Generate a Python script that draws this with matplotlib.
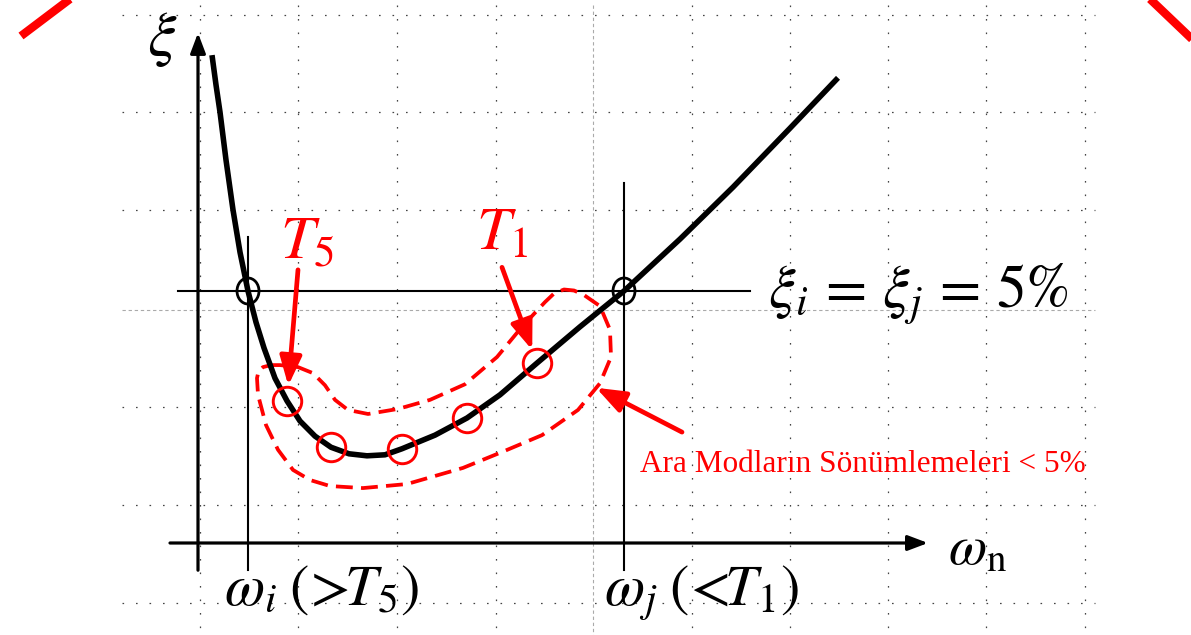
import matplotlib
matplotlib.use("Agg")
import matplotlib.pyplot as plt
from matplotlib.patches import Ellipse

plt.rcParams["mathtext.fontset"] = "stix"

# Rayleigh damping sketch: damping ratio xi (%) against natural frequency omega
omega_i = 1.0
omega_j = 8.52
xi_target = 5.0

# damping curve xi(omega)
curve_omega = [0.28, 0.36, 0.44, 0.56, 0.70, 0.84, 1.00, 1.16, 1.32, 1.54,
               1.78, 2.04, 2.34, 2.66, 3.02, 3.38, 3.74, 4.08, 4.74, 5.38,
               6.04, 6.78, 7.64, 8.52, 9.64, 10.70, 11.84, 12.80]
curve_xi = [9.68, 9.09, 8.55, 7.60, 6.61, 5.77, 5.00, 4.38, 3.87, 3.27,
            2.82, 2.42, 2.12, 1.90, 1.77, 1.73, 1.75, 1.87, 2.14, 2.48,
            2.94, 3.57, 4.29, 5.00, 6.03, 7.06, 8.23, 9.23]

# intermediate modes T5 ... T1
mode_omega = [1.78, 2.66, 4.08, 5.38, 6.78]
mode_xi = [2.82, 1.90, 1.87, 2.48, 3.57]

# outline of the region of the intermediate modes
region_omega = [1.46, 1.64, 2.00, 2.30, 2.54, 2.74, 3.00, 3.40, 4.00, 4.64,
                5.34, 5.98, 6.48, 6.94, 7.12, 7.32, 7.52, 7.72, 8.04, 8.24,
                8.26, 8.04, 7.60, 6.88, 6.14, 5.30, 4.18, 3.30, 2.64, 2.24,
                1.90, 1.60, 1.36, 1.20, 1.18, 1.21, 1.30, 1.46]
region_xi = [3.53, 3.53, 3.49, 3.37, 3.13, 2.84, 2.64, 2.56, 2.66, 2.84,
             3.15, 3.69, 4.29, 4.78, 4.95, 5.03, 5.01, 4.92, 4.70, 4.23,
             3.69, 3.17, 2.64, 2.14, 1.83, 1.49, 1.17, 1.09, 1.13, 1.25,
             1.45, 1.85, 2.34, 2.94, 3.27, 3.41, 3.49, 3.53]

RED = "#ff0000"
W, H = 1191, 635
fig = plt.figure(figsize=(W / 100, H / 100), dpi=100)

# background layer in pixel units: dotted guide grid and corner strokes
bg = fig.add_axes([0, 0, 1, 1])
bg.set_xlim(0, W)
bg.set_ylim(H, 0)
bg.axis("off")
grid_rows = [15, 112, 210, 407, 505, 603]
grid_cols = [200, 298, 397, 496, 692, 790, 888, 986, 1085]
for gy in grid_rows:
    bg.plot([122, 1095], [gy, gy], color="#444444", lw=0.9,
            ls=(0, (1.3, 9.5)), zorder=0)
for gx in grid_cols:
    bg.plot([gx, gx], [5, H], color="#444444", lw=0.9,
            ls=(0, (1.3, 9.5)), zorder=0)
bg.plot([122, 1095], [310, 310], color="#aaaaaa", lw=0.8,
        ls=(0, (3, 2.5)), zorder=0)
bg.plot([593, 593], [5, H], color="#aaaaaa", lw=0.8,
        ls=(0, (3, 2.5)), zorder=0)
bg.plot([21, 70], [36, -1], color=RED, lw=6, solid_capstyle="butt")
bg.plot([1150, 1194], [-1, 41], color=RED, lw=6, solid_capstyle="butt")

# main layer in (omega, xi) units
ax = fig.add_axes([0, 0, 1, 1])
ax.patch.set_alpha(0)
ax.axis("off")
px_per_omega = 50.0
px_per_xi = 50.4
x0, y0 = 198, 543
ax.set_xlim(-x0 / px_per_omega, (W - x0) / px_per_omega)
ax.set_ylim(-(H - y0) / px_per_xi, y0 / px_per_xi)

axis_arrow = dict(arrowstyle="-|>,head_length=0.45,head_width=0.17",
                  color="black", lw=2.3, mutation_scale=27,
                  shrinkA=0, shrinkB=0)
ax.annotate("", xy=(0, 10.12), xytext=(0, -0.54), arrowprops=axis_arrow)
ax.annotate("", xy=(14.6, 0), xytext=(-0.56, 0), arrowprops=axis_arrow)

# reference lines through the two anchor frequencies
ax.plot([-0.40, 11.04], [xi_target, xi_target], color="black", lw=1.5)
ax.plot([omega_i, omega_i], [-0.54, 6.07], color="black", lw=1.5)
ax.plot([omega_j, omega_j], [-0.54, 7.14], color="black", lw=1.5)

ax.plot(curve_omega, curve_xi, color="black", lw=4.0,
        solid_joinstyle="round", solid_capstyle="butt", zorder=4)

for w in (omega_i, omega_j):
    ax.add_patch(Ellipse((w, xi_target), 22 / px_per_omega, 26 / px_per_xi,
                         fill=False, ec="black", lw=2.0, zorder=5))

ax.plot(region_omega, region_xi, color=RED, lw=2.7,
        ls=(0, (4.5, 2.2)), zorder=3)
ax.plot(mode_omega, mode_xi, ls="none", marker="o", ms=20.5, mfc="none",
        mec=RED, mew=2.1, zorder=6)

red_arrow = dict(arrowstyle="-|>,head_length=0.8,head_width=0.3",
                 color=RED, lw=3.4, mutation_scale=22, shrinkA=0)
ax.annotate("", xy=(mode_omega[0], mode_xi[0]), xytext=(2.00, 5.42),
            arrowprops=dict(red_arrow, shrinkB=11))
ax.annotate("", xy=(mode_omega[-1], mode_xi[-1]), xytext=(6.08, 5.47),
            arrowprops=dict(red_arrow, shrinkB=10))
ax.annotate("", xy=(7.96, 3.08), xytext=(9.68, 2.20),
            arrowprops=dict(red_arrow, shrinkB=0))

# labels
bg.text(162, 38, r"$\xi$", fontsize=46, ha="center", va="center")
bg.text(280, 258, r"$T_5$", fontsize=44, color=RED, va="baseline")
bg.text(476, 250, r"$T_1$", fontsize=44, color=RED, va="baseline")
bg.text(768, 307, r"$\xi_i\,=\,\xi_j\,=\,5\%$", fontsize=43, va="baseline")
bg.text(948, 565, r"$\omega_\mathrm{n}$", fontsize=40, va="baseline")
bg.text(224, 605, r"$\omega_i\;(\!>\!\!T_5)$", fontsize=42, va="baseline")
bg.text(604, 605, r"$\omega_j\;(\!<\!\!T_1)$", fontsize=42, va="baseline")
bg.text(640, 472, "Ara Modların Sönümlemeleri < 5%", fontsize=22.5,
        color=RED, family="Liberation Serif", va="baseline")

fig.savefig("out.png", dpi=100)
